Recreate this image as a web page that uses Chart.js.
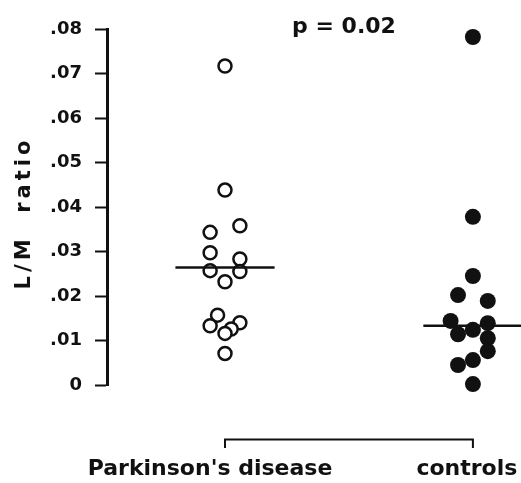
<!DOCTYPE html>
<html>
<head>
<meta charset="utf-8">
<script src="https://cdn.jsdelivr.net/npm/chart.js@4"></script>
<style>
  html, body { margin: 0; padding: 0; background: #fff; overflow: hidden; }
  #wrap { width: 521px; height: 483px; }
</style>
</head>
<body>
<div id="wrap"><canvas id="chartCanvas"></canvas></div>
<script>
// =============================
// Data
// =============================
const groups = ["Parkinson's disease", "controls"];

// L/M ratio per subject
const parkinsonValues = [0.0717, 0.0438, 0.0358, 0.0343, 0.0297, 0.0283, 0.0257, 0.0255, 0.0232, 0.0157, 0.0140, 0.0133, 0.0126, 0.0116, 0.0071];
const controlValues = [0.0782, 0.0378, 0.0245, 0.0202, 0.0189, 0.0144, 0.0139, 0.0124, 0.0114, 0.0105, 0.0076, 0.0056, 0.0045, 0.0002];

// horizontal spread of the dots around each group column (in group units)
const parkinsonJitter = [0, 0, 0.06, -0.06, -0.06, 0.06, -0.06, 0.06, 0, -0.03, 0.06, -0.06, 0.025, 0, 0];
const controlJitter = [0, 0, 0, -0.06, 0.06, -0.09, 0.06, 0, -0.06, 0.06, 0.06, 0, -0.06, 0];

const medians = [0.0264, 0.0133];
const yTickLabels = ["0", ".01", ".02", ".03", ".04", ".05", ".06", ".07", ".08"];
const pValueText = "p = 0.02";
const yTitle = "L/M  ratio";

const FONT = "'DejaVu Sans', sans-serif";
const INK = "#111";

// =============================
// Datasets
// =============================
const pdPoints = parkinsonValues.map((v, i) => ({ x: 1 + parkinsonJitter[i], y: v }));
const ctrlPoints = controlValues.map((v, i) => ({ x: 2 + controlJitter[i], y: v }));
const medianLine = (g, m) => [{ x: g - 0.2, y: m }, { x: g + 0.2, y: m }];

// =============================
// Bracket, group labels, p value, y title
// =============================
const annotations = {
  id: "annotations",
  afterDraw(chart) {
    const ctx = chart.ctx;
    const xs = chart.scales.x;
    const x1 = xs.getPixelForValue(1);
    const x2 = xs.getPixelForValue(2);

    ctx.save();
    ctx.strokeStyle = INK;
    ctx.fillStyle = INK;

    // bracket under the groups
    ctx.lineWidth = 2;
    ctx.beginPath();
    ctx.moveTo(x1, 448);
    ctx.lineTo(x1, 439.5);
    ctx.lineTo(x2, 439.5);
    ctx.lineTo(x2, 448);
    ctx.stroke();

    // group names
    ctx.font = "bold 22px " + FONT;
    ctx.textAlign = "center";
    ctx.textBaseline = "alphabetic";
    ctx.fillText(groups[0], x1 - 15, 475);
    ctx.fillText(groups[1], x2 - 6, 475);

    // p value
    ctx.fillText(pValueText, 344, 33);

    // y axis title
    ctx.translate(30, 213);
    ctx.rotate(-Math.PI / 2);
    ctx.font = "bold 21px " + FONT;
    ctx.letterSpacing = "4px";
    ctx.fillText(yTitle, 0, 0);
    ctx.letterSpacing = "0px";
    ctx.restore();
  }
};

// =============================
// Chart
// =============================
new Chart(document.getElementById("chartCanvas"), {
  type: "scatter",
  data: {
    datasets: [
      {
        data: medianLine(1, medians[0]),
        showLine: true,
        borderColor: INK,
        borderWidth: 2.5,
        pointRadius: 0,
        order: 0
      },
      {
        data: medianLine(2, medians[1]),
        showLine: true,
        borderColor: INK,
        borderWidth: 2.5,
        pointRadius: 0,
        order: 0
      },
      {
        label: groups[0],
        data: pdPoints,
        pointRadius: 6.5,
        pointBorderWidth: 2.5,
        pointBorderColor: INK,
        pointBackgroundColor: "#fff",
        order: 1
      },
      {
        label: groups[1],
        data: ctrlPoints,
        pointRadius: 8,
        pointBorderWidth: 0,
        pointBackgroundColor: INK,
        order: 1
      }
    ]
  },
  options: {
    responsive: true,
    maintainAspectRatio: false,
    animation: false,
    clip: false,
    layout: { autoPadding: false, padding: { top: 29, right: 0, bottom: 98, left: 0 } },
    plugins: {
      legend: { display: false },
      tooltip: { enabled: false }
    },
    scales: {
      x: {
        type: "linear",
        display: false,
        min: 0.524,
        max: 2.194
      },
      y: {
        min: 0,
        max: 0.08,
        afterFit(scale) { scale.width = 107; },
        border: { display: true, color: INK, width: 3 },
        grid: {
          display: true,
          drawOnChartArea: false,
          drawTicks: true,
          tickLength: 12,
          tickWidth: 2,
          tickColor: INK
        },
        ticks: {
          stepSize: 0.01,
          padding: 13,
          color: INK,
          font: { family: FONT, size: 18, weight: "bold" },
          callback: (value, index) => yTickLabels[index]
        }
      }
    }
  },
  plugins: [annotations]
});
</script>
</body>
</html>
